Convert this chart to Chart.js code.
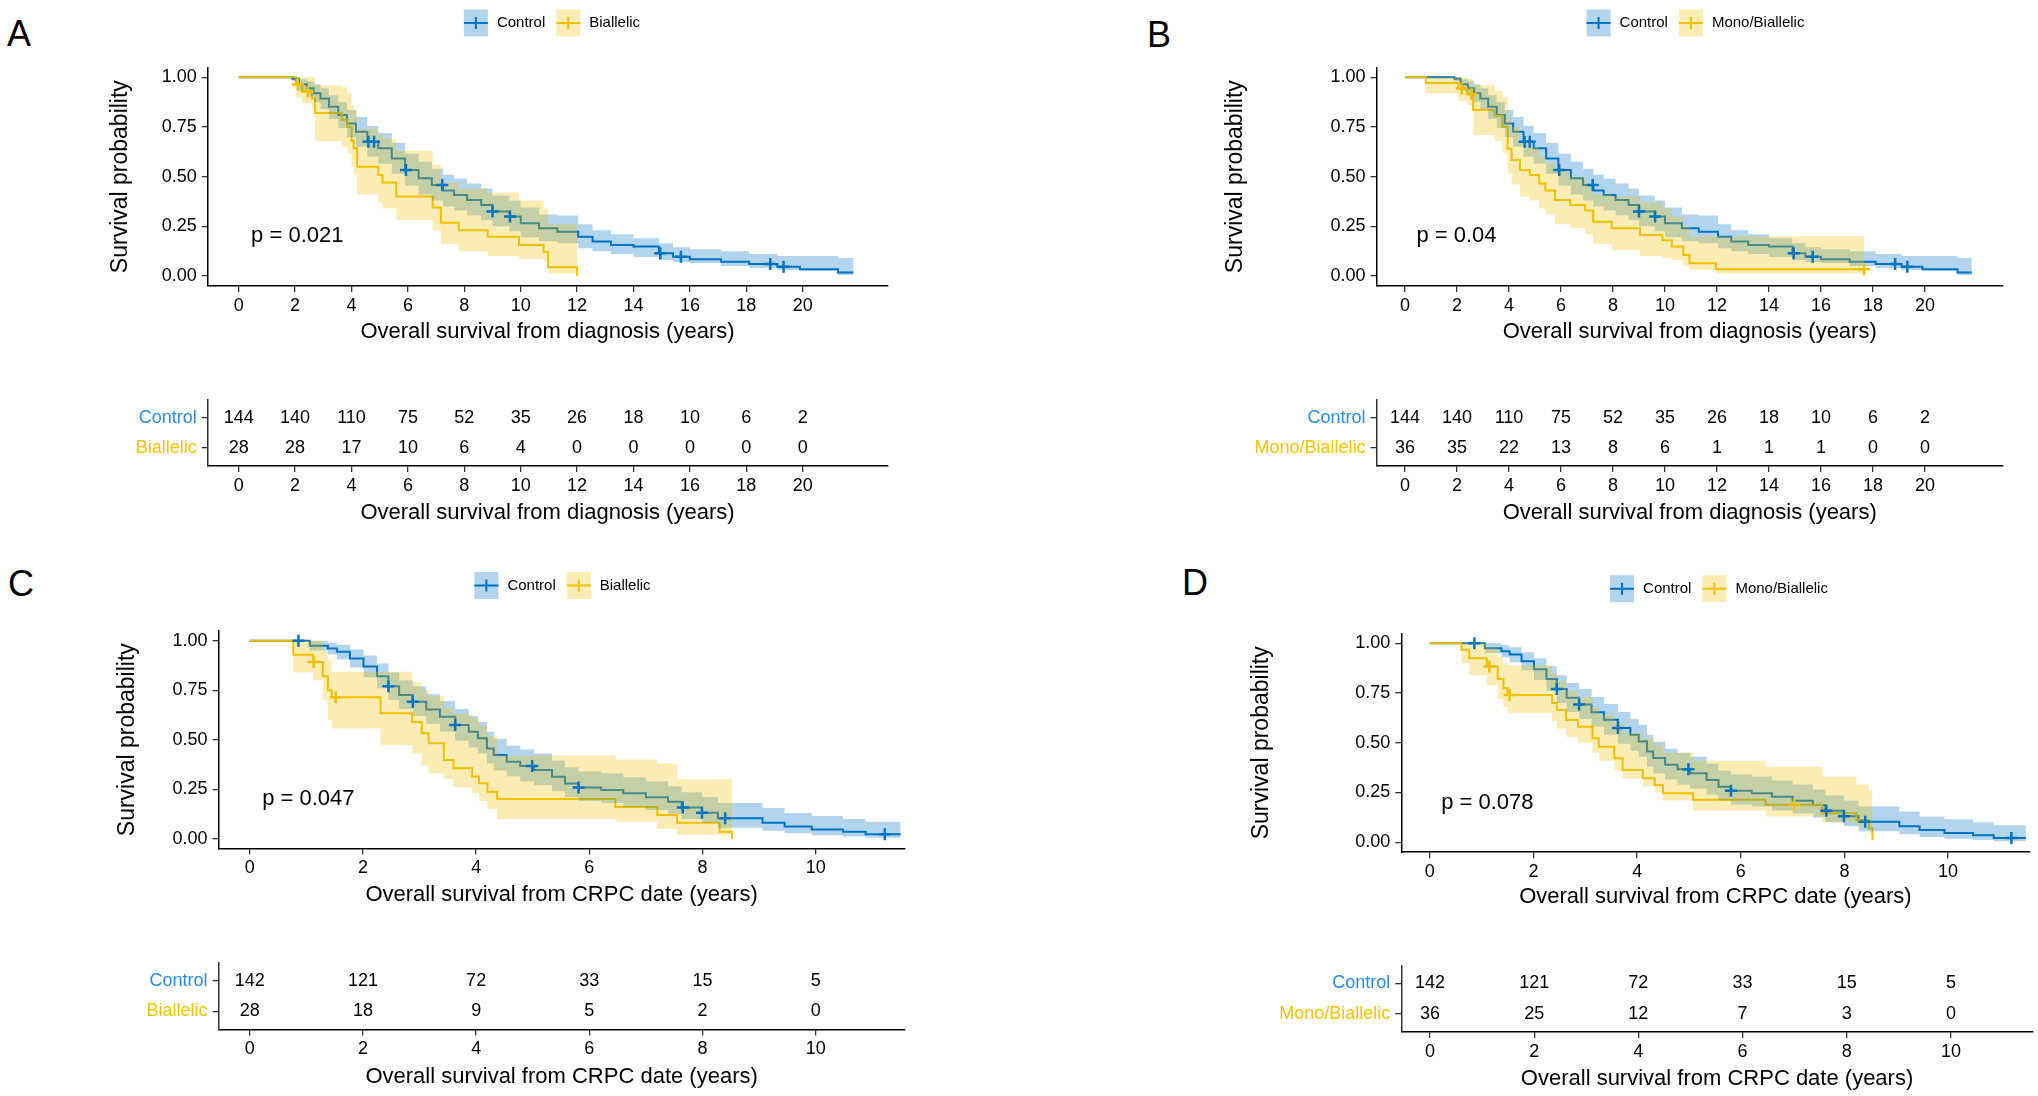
<!DOCTYPE html>
<html lang="en">
<head>
<meta charset="UTF-8">
<title>Overall survival: Control vs Biallelic / Mono-Biallelic</title>
<script src="https://cdn.jsdelivr.net/npm/chart.js@4.4.1/dist/chart.umd.min.js"></script>
<style>
  body { margin: 0; background: #fff; width: 2038px; height: 1096px; position: relative; overflow: hidden;
         font-family: "Liberation Sans", Arial, sans-serif; }
  canvas { position: absolute; }
  .tag { position: absolute; font-size: 36px; line-height: 36px; color: #000; }
</style>
</head>
<body>
<div class="tag" style="left:7px;top:16px">A</div>
<div class="tag" style="left:1147px;top:17px">B</div>
<div class="tag" style="left:8px;top:566px">C</div>
<div class="tag" style="left:1182px;top:565px">D</div>

<canvas id="kmA" width="900" height="350" style="left:0px;top:0px"></canvas>
<canvas id="riskA" width="900" height="150" style="left:0px;top:380px"></canvas>
<canvas id="kmB" width="938" height="350" style="left:1100px;top:0px"></canvas>
<canvas id="riskB" width="938" height="150" style="left:1100px;top:380px"></canvas>
<canvas id="kmC" width="920" height="375" style="left:0px;top:540px"></canvas>
<canvas id="riskC" width="920" height="156" style="left:0px;top:940px"></canvas>
<canvas id="kmD" width="938" height="375" style="left:1100px;top:540px"></canvas>
<canvas id="riskD" width="938" height="156" style="left:1100px;top:940px"></canvas>

<script>
// ---- survival from diagnosis: control group (panels A and B) ----
const ctrlDxTime = [0, 1.9, 2.14, 2.42, 2.66, 2.9, 3.2, 3.53, 3.84, 4.16, 4.56, 4.95, 5.43, 5.9, 6.38, 6.85, 7.25, 7.64, 8.1, 8.6,
                    9.0, 9.6, 10.0, 10.65, 11.3, 12.04, 12.55, 13.2, 14.0, 14.9, 15.4, 16.0, 17.1, 18.1, 19.1, 19.9, 21.25, 21.8];
const ctrlDxSurv = [1, .993, .965, .945, .92, .894, .852, .81, .768, .726, .676, .643, .592, .534, .492, .458, .43, .408, .383, .357,
                    .324, .299, .265, .24, .223, .198, .173, .156, .148, .114, .097, .084, .072, .06, .047, .034, .017, .017];
const ctrlDxLow  = [1, .98, .93, .905, .875, .84, .79, .745, .70, .65, .60, .565, .515, .455, .41, .38, .35, .33, .305, .28,
                    .25, .225, .195, .175, .165, .14, .125, .11, .095, .08, .07, .065, .05, .04, .03, .025, .005, .005];
const ctrlDxUp   = [1, 1, .99, .98, .965, .945, .91, .875, .835, .80, .755, .72, .67, .615, .575, .54, .51, .49, .465, .44,
                    .405, .38, .345, .31, .305, .26, .23, .21, .19, .165, .145, .135, .125, .11, .10, .10, .09, .09];
const ctrlDxCens = [4.6, 4.8, 5.93, 7.22, 9.0, 9.62, 14.95, 15.68, 18.85, 19.32];

// biallelic (panel A)
const biDxTime = [0, 2.03, 2.25, 2.6, 2.71, 3.65, 3.85, 4.0, 4.08, 4.2, 4.95, 5.1, 5.59, 6.88, 7.17, 7.8, 8.83, 9.94, 10.81, 10.97, 12.0];
const biDxSurv = [1, .964, .929, .893, .821, .786, .75, .679, .643, .55, .508, .47, .40, .345, .268, .23, .198, .156, .122, .044, 0];
const biDxLow  = [1, .90, .87, .84, .68, .65, .62, .55, .51, .41, .37, .34, .28, .23, .16, .125, .10, .085, .07, .013, 0];
const biDxUp   = [1, 1, 1, 1, .96, .95, .92, .86, .83, .74, .71, .69, .63, .56, .47, .44, .42, .38, .34, .26, .26];
const biDxCens = [2.1, 2.45];

// mono/biallelic (panel B)
const monoDxTime = [0, 0.8, 2.05, 2.4, 2.62, 3.45, 3.75, 3.95, 4.1, 4.42, 4.8, 5.16, 5.4, 5.77, 6.35, 6.92, 7.24, 7.95, 9.04, 9.9,
                    10.26, 10.7, 10.94, 11.96, 17.66];
const monoDxSurv = [1, .972, .944, .916, .835, .806, .75, .64, .584, .533, .508, .466, .43, .382, .357, .33, .273, .24, .206, .18,
                    .148, .106, .064, .034, .034];
const monoDxLow  = [1, .92, .88, .86, .71, .68, .62, .52, .46, .40, .38, .34, .31, .26, .24, .21, .16, .13, .10, .09,
                    .08, .05, .03, .013, .013];
const monoDxUp   = [1, 1, 1, .99, .96, .93, .90, .80, .75, .68, .65, .60, .57, .53, .50, .47, .41, .40, .37, .34,
                    .30, .25, .20, .20, .20];
const monoDxCens = [2.18, 2.56, 17.66];

// ---- survival from CRPC date: control group (panels C and D) ----
const ctrlCrTime = [0, 0.78, 1.06, 1.38, 1.54, 1.77, 2.01, 2.25, 2.45, 2.64, 2.88, 3.12, 3.36, 3.63, 3.87, 4.03, 4.19, 4.31, 4.54, 4.78,
                    5.02, 5.34, 5.57, 5.81, 6.21, 6.6, 7.0, 7.39, 7.63, 7.99, 8.27, 9.06, 9.45, 9.93, 10.48, 10.88, 11.5];
const ctrlCrSurv = [1, 1, .975, .96, .944, .91, .87, .82, .77, .726, .692, .653, .616, .574, .54, .507, .456, .423, .389, .367,
                    .347, .313, .279, .259, .246, .229, .209, .187, .158, .131, .103, .081, .061, .047, .035, .022, .022];
const ctrlCrLow  = [1, 1, .95, .93, .905, .865, .815, .76, .70, .655, .62, .58, .54, .495, .46, .43, .38, .345, .315, .29,
                    .27, .24, .21, .19, .18, .16, .145, .125, .10, .08, .055, .04, .027, .018, .011, .005, .005];
const ctrlCrUp   = [1, 1, 1, .99, .98, .955, .925, .885, .84, .80, .77, .73, .695, .655, .62, .59, .54, .505, .47, .45,
                    .43, .395, .36, .34, .33, .31, .29, .265, .235, .21, .18, .155, .13, .115, .10, .085, .085];
const ctrlCrCens = [0.86, 2.45, 2.88, 3.63, 4.99, 5.81, 7.65, 7.99, 8.4, 11.22];

// biallelic (panel C)
const biCrTime = [0, 0.77, 1.12, 1.29, 1.38, 1.45, 2.31, 2.87, 3.04, 3.16, 3.43, 3.6, 3.93, 4.05, 4.2, 4.37, 6.46, 7.2, 7.55, 8.3, 8.52];
const biCrSurv = [1, .929, .893, .82, .75, .714, .633, .59, .532, .482, .398, .356, .314, .28, .237, .2, .16, .12, .08, .035, 0];
const biCrLow  = [1, .84, .80, .70, .60, .557, .473, .43, .37, .33, .30, .26, .23, .19, .15, .10, .086, .05, .02, .016, 0];
const biCrUp   = [1, 1, 1, .95, .90, .843, .843, .79, .75, .72, .66, .63, .61, .57, .52, .42, .40, .38, .30, .30, .30];
const biCrCens = [1.13, 1.52];

// mono/biallelic (panel D)
const monoCrTime = [0, 0.61, 0.76, 1.1, 1.31, 1.42, 1.5, 2.36, 2.45, 2.63, 2.86, 3.14, 3.26, 3.56, 3.72, 4.11, 4.34, 4.5, 5.08, 6.48,
                    7.57, 8.23, 8.47, 8.54];
const monoCrSurv = [1, .967, .925, .883, .82, .774, .74, .70, .665, .615, .58, .523, .48, .422, .363, .322, .288, .246, .213, .188,
                    .146, .112, .07, .01];
const monoCrLow  = [1, .90, .84, .79, .72, .68, .65, .61, .57, .53, .50, .45, .41, .36, .32, .28, .25, .21, .16, .13,
                    .10, .08, .045, .005];
const monoCrUp   = [1, 1, 1, .98, .93, .90, .89, .85, .81, .76, .73, .68, .64, .60, .55, .52, .49, .45, .41, .38,
                    .33, .29, .26, .26];
const monoCrCens = [1.15, 1.54, 7.03];

// ---- numbers at risk ----
const riskDxTimes = [0, 2, 4, 6, 8, 10, 12, 14, 16, 18, 20];
const riskDxCtrl  = [144, 140, 110, 75, 52, 35, 26, 18, 10, 6, 2];
const riskDxBi    = [28, 28, 17, 10, 6, 4, 0, 0, 0, 0, 0];
const riskDxMono  = [36, 35, 22, 13, 8, 6, 1, 1, 1, 0, 0];
const riskCrTimes = [0, 2, 4, 6, 8, 10];
const riskCrCtrl  = [142, 121, 72, 33, 15, 5];
const riskCrBi    = [28, 18, 9, 5, 2, 0];
const riskCrMono  = [36, 25, 12, 7, 3, 0];

const xTicksDx = [0, 2, 4, 6, 8, 10, 12, 14, 16, 18, 20];
const xTicksCr = [0, 2, 4, 6, 8, 10];
const yTicks = [0, 0.25, 0.5, 0.75, 1];

const BLUE = '#0073C2', YELLOW = '#EFC000';
const BLUE_BAND = 'rgba(0,115,194,0.3)', YELLOW_BAND = 'rgba(239,192,0,0.3)';
const FONT = '"Liberation Sans", Arial, sans-serif';
Chart.defaults.font.family = FONT;
Chart.defaults.color = '#000';

const pts = (xs, ys) => xs.map((x, i) => ({ x: x, y: ys[i] }));
function stepAt(times, surv, t) {
  let k = 0;
  for (let i = 0; i < times.length; i++) if (times[i] <= t) k = i;
  return surv[k];
}

// legend: shaded key with line and cross, then label
const kmLegend = {
  id: 'kmLegend',
  afterDraw(chart, args, o) {
    const ctx = chart.ctx;
    const items = chart.data.datasets.filter(d => d.legendItem);
    const bw = 24, bh = 27, gapText = 9, gapItem = 11;
    ctx.save();
    ctx.font = '15px ' + FONT;
    const widths = items.map(d => ctx.measureText(d.label).width);
    let total = gapItem * (items.length - 1);
    widths.forEach(w => { total += bw + gapText + w; });
    let x = o.cx - total / 2;
    items.forEach((d, i) => {
      ctx.fillStyle = d.bandColor;
      ctx.fillRect(x, o.cy - bh / 2, bw, bh);
      ctx.strokeStyle = d.borderColor;
      ctx.lineWidth = 2;
      ctx.beginPath();
      ctx.moveTo(x, o.cy); ctx.lineTo(x + bw, o.cy);
      ctx.moveTo(x + bw / 2, o.cy - 6); ctx.lineTo(x + bw / 2, o.cy + 6);
      ctx.stroke();
      ctx.fillStyle = '#000';
      ctx.textAlign = 'left';
      ctx.textBaseline = 'middle';
      ctx.fillText(d.label, x + bw + gapText, o.cy);
      x += bw + gapText + widths[i] + gapItem;
    });
    ctx.restore();
  }
};

const pvalText = {
  id: 'pvalText',
  afterDatasetsDraw(chart, args, o) {
    const ctx = chart.ctx;
    ctx.save();
    ctx.font = '22px ' + FONT;
    ctx.fillStyle = '#000';
    ctx.textAlign = 'left';
    ctx.textBaseline = 'middle';
    ctx.fillText(o.text, chart.scales.x.getPixelForValue(o.x), chart.scales.y.getPixelForValue(o.y));
    ctx.restore();
  }
};

const riskNumbers = {
  id: 'riskNumbers',
  afterDatasetsDraw(chart) {
    const ctx = chart.ctx;
    ctx.save();
    ctx.font = '18px ' + FONT;
    ctx.fillStyle = '#000';
    ctx.textAlign = 'center';
    ctx.textBaseline = 'middle';
    chart.data.datasets.forEach((d, i) => {
      chart.getDatasetMeta(i).data.forEach((el, j) => ctx.fillText(String(d.data[j].n), el.x, el.y));
    });
    ctx.restore();
  }
};

function xScale(p, height, title) {
  return {
    type: 'linear', min: p.xmin, max: p.xmax, bounds: 'data',
    afterBuildTicks: s => { s.ticks = p.xticks.map(v => ({ value: v })); },
    afterFit: s => { s.height = height; },
    grid: { display: true, drawOnChartArea: false, drawTicks: true, tickLength: 6, color: '#333', lineWidth: 1.3 },
    border: { display: true, color: '#000', width: 1.5 },
    ticks: { font: { size: 18 }, color: '#000', padding: 3, maxRotation: 0, autoSkip: false },
    title: { display: true, text: title, font: { size: 22 }, color: '#000', padding: 0 }
  };
}

function kmChart(id, p) {
  const ds = [];
  p.groups.forEach((g, gi) => {
    ds.push({ type: 'line', data: pts(g.time, g.low), stepped: true, borderWidth: 0, borderColor: 'transparent',
              pointRadius: 0, fill: false, order: 3 - gi });
    ds.push({ type: 'line', data: pts(g.time, g.up), stepped: true, borderWidth: 0, borderColor: 'transparent',
              backgroundColor: g.band, pointRadius: 0, fill: '-1', order: 3 - gi });
  });
  p.groups.forEach((g, gi) => {
    ds.push({ type: 'line', label: g.label, legendItem: true, bandColor: g.band, data: pts(g.time, g.surv),
              stepped: true, borderColor: g.color, borderWidth: 2, pointRadius: 0, fill: false, order: 5 - gi });
  });
  p.groups.forEach((g, gi) => {
    ds.push({ type: 'scatter', data: g.cens.map(t => ({ x: t, y: stepAt(g.time, g.surv, t) })),
              pointStyle: 'cross', pointRadius: 6, pointBorderWidth: 2.5, borderColor: g.color,
              backgroundColor: g.color, order: 1 - gi });
  });
  return new Chart(document.getElementById(id), {
    type: 'line',
    data: { datasets: ds },
    options: {
      responsive: false, animation: false, events: [],
      layout: { padding: p.pad },
      plugins: { legend: { display: false }, tooltip: { enabled: false }, kmLegend: p.legend, pvalText: p.pval },
      scales: {
        x: xScale(p, p.xh, p.xtitle),
        y: {
          type: 'linear', min: -0.05, max: 1.05, bounds: 'data',
          afterBuildTicks: s => { s.ticks = yTicks.map(v => ({ value: v })); },
          afterFit: s => { s.width = p.yw; },
          grid: { display: true, drawOnChartArea: false, drawTicks: true, tickLength: 6, color: '#333', lineWidth: 1.3 },
          border: { display: true, color: '#000', width: 1.5 },
          ticks: { font: { size: 18 }, color: '#000', padding: 5, callback: v => v.toFixed(2) },
          title: { display: true, text: 'Survival probability', font: { size: 23 }, color: '#000', padding: 0 }
        }
      }
    },
    plugins: [kmLegend, pvalText]
  });
}

function riskChart(id, p) {
  const ds = p.rows.map((r, ri) => ({
    type: 'scatter', pointRadius: 0,
    data: p.times.map((t, i) => ({ x: t, y: 2 - ri, n: r.counts[i] }))
  }));
  return new Chart(document.getElementById(id), {
    type: 'scatter',
    data: { datasets: ds },
    options: {
      responsive: false, animation: false, events: [],
      layout: { padding: p.pad },
      plugins: { legend: { display: false }, tooltip: { enabled: false } },
      scales: {
        x: xScale(p, p.xh, p.xtitle),
        y: {
          type: 'linear', min: 0.4, max: 2.6, bounds: 'data',
          afterBuildTicks: s => { s.ticks = [{ value: 1 }, { value: 2 }]; },
          afterFit: s => { s.width = p.yw; },
          grid: { display: true, drawOnChartArea: false, drawTicks: true, tickLength: 6, color: '#333', lineWidth: 1.3 },
          border: { display: true, color: '#333', width: 1.5 },
          ticks: { font: { size: 18 }, padding: 5,
                   callback: v => p.rows[2 - v].label,
                   color: c => p.rows[2 - c.tick.value].color }
        }
      }
    },
    plugins: [riskNumbers]
  });
}

const ctrlDx = { label: 'Control', time: ctrlDxTime, surv: ctrlDxSurv, low: ctrlDxLow, up: ctrlDxUp, cens: ctrlDxCens, color: BLUE, band: BLUE_BAND };
const ctrlCr = { label: 'Control', time: ctrlCrTime, surv: ctrlCrSurv, low: ctrlCrLow, up: ctrlCrUp, cens: ctrlCrCens, color: BLUE, band: BLUE_BAND };
const dxTitle = 'Overall survival from diagnosis (years)';
const crTitle = 'Overall survival from CRPC date (years)';
const TXT_BLUE = '#2A8CDB', TXT_YELLOW = '#F3C300';

// panel A
kmChart('kmA', {
  groups: [ctrlDx, { label: 'Biallelic', time: biDxTime, surv: biDxSurv, low: biDxLow, up: biDxUp, cens: biDxCens, color: YELLOW, band: YELLOW_BAND }],
  xmin: -1.095, xmax: 22.995, xticks: xTicksDx, xtitle: dxTitle,
  pad: { left: 107, top: 67.4, right: 12.8, bottom: 5.3 }, yw: 100.8, xh: 58.8,
  legend: { cx: 552, cy: 23 }, pval: { text: 'p = 0.021', x: 0.44, y: 0.2 }
});
riskChart('riskA', {
  times: riskDxTimes, rows: [{ label: 'Control', counts: riskDxCtrl, color: TXT_BLUE }, { label: 'Biallelic', counts: riskDxBi, color: TXT_YELLOW }],
  xmin: -1.095, xmax: 22.995, xticks: xTicksDx, xtitle: dxTitle,
  pad: { left: 0, top: 20, right: 12.8, bottom: 3.5 }, yw: 207.8, xh: 60.5
});

// panel B
kmChart('kmB', {
  groups: [ctrlDx, { label: 'Mono/Biallelic', time: monoDxTime, surv: monoDxSurv, low: monoDxLow, up: monoDxUp, cens: monoDxCens, color: YELLOW, band: YELLOW_BAND }],
  xmin: -1.095, xmax: 22.995, xticks: xTicksDx, xtitle: dxTitle,
  pad: { left: 122.2, top: 67.4, right: 35.1, bottom: 5.3 }, yw: 154.3, xh: 58.8,
  legend: { cx: 595.5, cy: 23 }, pval: { text: 'p = 0.04', x: 0.44, y: 0.2 }
});
riskChart('riskB', {
  times: riskDxTimes, rows: [{ label: 'Control', counts: riskDxCtrl, color: TXT_BLUE }, { label: 'Mono/Biallelic', counts: riskDxMono, color: TXT_YELLOW }],
  xmin: -1.095, xmax: 22.995, xticks: xTicksDx, xtitle: dxTitle,
  pad: { left: 0, top: 20, right: 35.1, bottom: 3.5 }, yw: 276.5, xh: 60.5
});

// panel C
kmChart('kmC', {
  groups: [ctrlCr, { label: 'Biallelic', time: biCrTime, surv: biCrSurv, low: biCrLow, up: biCrUp, cens: biCrCens, color: YELLOW, band: YELLOW_BAND }],
  xmin: -0.55, xmax: 11.57, xticks: xTicksCr, xtitle: crTitle,
  pad: { left: 114.2, top: 90.8, right: 15.4, bottom: 7.3 }, yw: 104.4, xh: 59.1,
  legend: { cx: 562.5, cy: 45.5 }, pval: { text: 'p = 0.047', x: 0.22, y: 0.2 }
});
riskChart('riskC', {
  times: riskCrTimes, rows: [{ label: 'Control', counts: riskCrCtrl, color: TXT_BLUE }, { label: 'Biallelic', counts: riskCrBi, color: TXT_YELLOW }],
  xmin: -0.55, xmax: 11.57, xticks: xTicksCr, xtitle: crTitle,
  pad: { left: 0, top: 22.8, right: 15.4, bottom: 6 }, yw: 218.6, xh: 60.5
});

// panel D
kmChart('kmD', {
  groups: [ctrlCr, { label: 'Mono/Biallelic', time: monoCrTime, surv: monoCrSurv, low: monoCrLow, up: monoCrUp, cens: monoCrCens, color: YELLOW, band: YELLOW_BAND }],
  xmin: -0.55, xmax: 11.57, xticks: xTicksCr, xtitle: crTitle,
  pad: { left: 148.2, top: 93.35, right: 5.2, bottom: 4.8 }, yw: 153.1, xh: 58,
  legend: { cx: 619, cy: 48.7 }, pval: { text: 'p = 0.078', x: 0.22, y: 0.2 }
});
riskChart('riskD', {
  times: riskCrTimes, rows: [{ label: 'Control', counts: riskCrCtrl, color: TXT_BLUE }, { label: 'Mono/Biallelic', counts: riskCrMono, color: TXT_YELLOW }],
  xmin: -0.55, xmax: 11.57, xticks: xTicksCr, xtitle: crTitle,
  pad: { left: 0, top: 25.3, right: 5.2, bottom: 3.5 }, yw: 301.3, xh: 60.5
});
</script>
</body>
</html>
